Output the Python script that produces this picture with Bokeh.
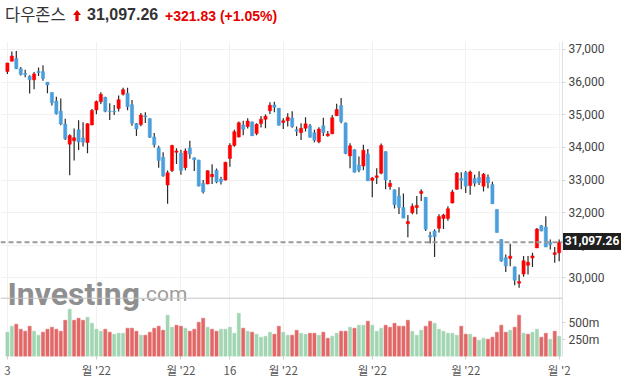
import pandas as pd
from bokeh.plotting import figure
from bokeh.layouts import column
from bokeh.models import (ColumnDataSource, Range1d, FixedTicker, NumeralTickFormatter,
                          Span, Label, Div)
from bokeh.embed import file_html
from bokeh.resources import INLINE

# ---------------- data (Dow Jones daily) ----------------
holidays = ["2022-01-17", "2022-02-21", "2022-04-15", "2022-05-30", "2022-06-20"]
dates = [d.strftime("%Y-%m-%d") for d in
         pd.bdate_range("2022-01-03", "2022-07-01", freq="C", holidays=holidays)]

opens = [36322, 36636, 36722, 36409, 36260, 36180, 36070, 36330, 36320, 36000,
         35680, 35420, 35110, 34720, 34100, 34200, 34540, 34290, 34150, 34690,
         35148, 35400, 35534, 35110, 35110, 35190, 35630, 35660, 35310, 34730,
         34700, 34970, 34880, 34320, 33990, 33700, 32850, 33290, 33850, 33830,
         33380, 33980, 33680, 33610, 32900, 32880, 33100, 33300, 33030, 33000,
         33660, 34060, 34320, 34690, 34640, 34780, 34425, 34730, 34860, 35120,
         35300, 35200, 34760, 34820, 34900, 34540, 34450, 34590, 34660, 34450,
         34170, 34660, 34360, 34420, 34970, 35280, 34750, 33740, 33930, 33460,
         33430, 33800, 32990, 33080, 33210, 33870, 32800, 32700, 32510, 32160,
         31660, 32000, 32160, 32590, 32470, 31300, 31440, 31520, 31820, 31820,
         32300, 32720, 33050, 33230, 32830, 33050, 33080, 32810, 33090, 32860,
         32100, 31180, 30620, 30600, 30340, 29840, 30120, 30390, 30610, 30920,
         31600, 31560, 31090, 30720, 30770]
highs = [36596, 36935, 36952, 36464, 36380, 36210, 36310, 36450, 36520, 36005,
         35690, 35550, 35500, 34880, 34400, 34580, 34830, 34770, 34740, 35178,
         35440, 35690, 35555, 35350, 35300, 35590, 35830, 35830, 35455, 34750,
         35055, 35075, 34890, 34440, 34050, 33850, 33290, 34080, 33975, 33925,
         33970, 34200, 33690, 33620, 33000, 33300, 33485, 33350, 33100, 33560,
         34127, 34540, 34790, 34820, 34890, 34790, 34740, 34960, 35010, 35380,
         35400, 35210, 34890, 35050, 35110, 34640, 34740, 34925, 34720, 34540,
         34620, 34910, 34500, 34990, 35340, 35510, 34760, 34130, 33940, 33720,
         34080, 33950, 33090, 33360, 34120, 33880, 33000, 32710, 32780, 32590,
         31930, 32280, 32510, 32720, 32480, 31420, 31490, 31950, 31970, 32200,
         32700, 33250, 33240, 33280, 33290, 33160, 33270, 33213, 33170, 32950,
         32100, 31180, 30720, 31045, 30350, 30110, 30670, 30670, 30770, 31530,
         31620, 31890, 31180, 30950, 31177]
lows = [36246, 36636, 36400, 36200, 36150, 35650, 35780, 36190, 36040, 35660,
        35280, 35010, 34680, 34230, 33150, 33600, 33920, 34030, 33820, 34680,
        35015, 35330, 35080, 34840, 34995, 35100, 35589, 35140, 34660, 34350,
        34650, 34750, 34290, 34000, 33380, 33100, 32272, 33250, 33490, 33160,
        33300, 33650, 33280, 32800, 32588, 32870, 32880, 32900, 32860, 32990,
        33410, 34020, 34300, 34370, 34580, 34350, 34370, 34610, 34590, 35020,
        35080, 34670, 34560, 34640, 34600, 34350, 34230, 34485, 34300, 34160,
        34130, 34350, 34330, 34400, 34960, 34740, 33790, 33360, 33230, 33240,
        33300, 32970, 32470, 32880, 33180, 32720, 32700, 32130, 31960, 31830,
        31250, 31950, 31950, 32360, 31440, 31060, 30640, 31390, 31500, 31750,
        32280, 32700, 32720, 32600, 32550, 32800, 32850, 32650, 32750, 32270,
        31390, 30500, 30180, 30360, 29780, 29700, 30040, 30110, 30340, 30920,
        31430, 30950, 30870, 30465, 30516]
closes = [36585, 36800, 36407, 36236, 36232, 36069, 36252, 36290, 36114, 35912,
          35368, 35029, 34715, 34265, 34364, 34298, 34168, 34161, 34725, 35132,
          35405, 35629, 35111, 35090, 35091, 35463, 35768, 35242, 34738, 34566,
          34989, 34934, 34312, 34079, 33597, 33132, 33224, 34059, 33893, 33295,
          33891, 33795, 33615, 32817, 32633, 33286, 33174, 32944, 32945, 33544,
          34063, 34481, 34755, 34553, 34807, 34358, 34708, 34861, 34956, 35294,
          35229, 34678, 34818, 34922, 34641, 34497, 34584, 34721, 34308, 34220,
          34565, 34451, 34412, 34911, 35161, 34793, 33811, 34049, 33240, 33302,
          33916, 32977, 33061, 33129, 34061, 32998, 32899, 32246, 32161, 31834,
          31730, 32197, 32223, 32655, 31490, 31253, 31262, 31880, 31929, 32120,
          32637, 33213, 32990, 32813, 33248, 32900, 32916, 33180, 32911, 32273,
          31393, 30517, 30365, 30669, 29927, 29889, 30530, 30483, 30677, 31501,
          31438, 30947, 31029, 30775, 31097.26]
volumes_m = [359, 447, 476, 403, 373, 447, 373, 315, 359, 403,
             432, 403, 373, 535, 697, 535, 565, 535, 579, 491,
             403, 373, 403, 359, 329, 343, 343, 418, 418, 373,
             315, 315, 359, 418, 447, 388, 609, 432, 462, 447,
             418, 373, 403, 506, 565, 432, 403, 373, 403, 403,
             432, 343, 638, 418, 373, 359, 329, 285, 300, 359,
             329, 447, 359, 315, 315, 388, 343, 329, 343, 343,
             315, 359, 270, 300, 343, 373, 373, 432, 418, 462,
             462, 521, 462, 373, 418, 462, 432, 491, 447, 447,
             535, 373, 315, 388, 447, 521, 491, 403, 373, 343,
             343, 315, 447, 329, 329, 285, 241, 270, 255, 285,
             359, 462, 359, 388, 432, 609, 343, 329, 359, 403,
             285, 343, 255, 373, 300]
prev_close = 36338.30          # close of the session before the first one
index_name = "다우존스"
last_price = 31097.26
change = 321.83
change_pct = 1.05

price_ticks = [30000, 31000, 32000, 33000, 34000, 35000, 36000, 37000]
vol_ticks = [250, 500]
vol_tick_labels = ["250m", "500m"]
tick_dates = ["2022-01-03", "2022-02-01", "2022-03-01", "2022-03-16",
              "2022-04-01", "2022-05-02", "2022-06-01", "2022-07-01"]
tick_labels = ["3", "월 '22", "월 '22", "16", "월 '22", "월 '22", "월 '22", "월 '2"]

# ---------------- styling constants ----------------
UP_CANDLE, DOWN_CANDLE = "#ff0000", "#4a9fdc"
UP_VOL, DOWN_VOL = "#a2d5b2", "#e26767"
PRICE_LO, PRICE_HI = 27595, 37244
VOL_HI = 4647
SEPARATOR_VOL = 860

n = len(dates)
idx = list(range(n))
body_top = [max(o, c) for o, c in zip(opens, closes)]
body_bot = [min(o, c) for o, c in zip(opens, closes)]
candle_col = [UP_CANDLE if c >= o else DOWN_CANDLE for o, c in zip(opens, closes)]
prevs = [prev_close] + closes[:-1]
vol_col = [UP_VOL if c >= pc else DOWN_VOL for c, pc in zip(closes, prevs)]

src = ColumnDataSource(dict(x=idx, o=opens, h=highs, l=lows, c=closes,
                            bt=body_top, bb=body_bot, cc=candle_col,
                            v=volumes_m, vc=vol_col))

p = figure(width=627, height=350, x_range=Range1d(-1.55, 124.75),
           y_range=Range1d(PRICE_LO, PRICE_HI), y_axis_location="right",
           output_backend="svg", toolbar_location=None,
           min_border_left=0, min_border_top=11, min_border_right=65,
           min_border_bottom=23)
p.extra_y_ranges = {"vol": Range1d(0, VOL_HI)}
p.outline_line_color = None
p.background_fill_color = "white"
p.border_fill_color = "white"

def vol_to_price(v):
    return PRICE_LO + v / VOL_HI * (PRICE_HI - PRICE_LO)

# right axis (price ticks + volume ticks share one axis)
yax = p.yaxis[0]
vol_tick_pos = [vol_to_price(v) for v in vol_ticks]
yax.ticker = FixedTicker(ticks=price_ticks + vol_tick_pos)
yax.formatter = NumeralTickFormatter(format="0,0")
yax.major_label_overrides = {pos: lab for pos, lab in zip(vol_tick_pos, vol_tick_labels)}
yax.axis_line_color = "#dde1e6"
yax.major_tick_line_color = "#d5d5d5"
yax.major_tick_out = 3
yax.major_tick_in = 0
yax.minor_tick_line_color = None
yax.major_label_text_font = "Roboto"
yax.major_label_text_font_size = "12px"
yax.major_label_text_color = "#444444"
yax.major_label_standoff = 3

tick_idx = [dates.index(d) for d in tick_dates]
xax = p.xaxis[0]
xax.ticker = FixedTicker(ticks=tick_idx)
xax.major_label_overrides = {i: lab for i, lab in zip(tick_idx, tick_labels)}
xax.axis_line_color = None
xax.major_tick_line_color = "#cccccc"
xax.major_tick_out = 3
xax.major_tick_in = 0
xax.minor_tick_line_color = None
xax.major_label_text_font = "Noto Sans CJK KR"
xax.major_label_text_font_size = "11.5px"
xax.major_label_text_color = "#555555"
xax.major_label_standoff = 2

p.ygrid.ticker = FixedTicker(ticks=price_ticks)
p.ygrid.grid_line_color = "#f1f1f1"
p.xgrid.ticker = FixedTicker(ticks=tick_idx)
p.xgrid.grid_line_color = "#f1f1f1"

# watermark
p.add_layout(Label(x=7, y=63, x_units="screen", y_units="screen", text="Investing",
                   text_font="Roboto", text_font_style="bold",
                   text_font_size="32px", text_color="#8f8f8f",
                   text_baseline="alphabetic", text_align="left"))
p.add_layout(Label(x=140, y=63, x_units="screen", y_units="screen", text=".com",
                   text_font="Roboto", text_font_size="21px",
                   text_color="#9c9c9c", text_baseline="alphabetic", text_align="left"))

# separator between price and volume panels
p.add_layout(Span(location=SEPARATOR_VOL, dimension="width", y_range_name="vol",
                  line_color="#c6c6c6", line_width=1))

# volume bars
p.vbar(x="x", width=0.7, top="v", bottom=0, fill_color="vc", line_color="vc",
       line_width=0.5, source=src, y_range_name="vol")

# candles
p.segment(x0="x", y0="l", x1="x", y1="h", line_color="#2a2a2a", line_width=1.2, source=src)
p.vbar(x="x", width=0.72, top="bt", bottom="bb", fill_color="cc", line_color="cc",
       line_width=0.5, source=src)

# last price line
p.add_layout(Span(location=last_price, dimension="width", line_color="#9a9a9a",
                  line_width=2, line_dash="5 3"))

# header + last-price box (HTML, the box overlays the axis area)
header_html = f"""
<div style="position:absolute;left:0;top:0;width:627px;height:30px;white-space:nowrap;">
  <span style="position:absolute;left:5px;top:3px;line-height:22px;font-family:'Noto Sans CJK KR';font-size:16.5px;color:#333333;">{index_name}</span>
  <svg style="position:absolute;left:73px;top:10px;" width="8" height="11" viewBox="0 0 8 11">
    <path d="M4 0 L8 5 L5.6 5 L5.6 11 L2.4 11 L2.4 5 L0 5 Z" fill="#e60000"/>
  </svg>
  <span style="position:absolute;left:87px;top:4px;line-height:22px;font-family:'Liberation Sans',Arial,sans-serif;font-weight:bold;font-size:16px;color:#333333;">{last_price:,.2f}</span>
  <span style="position:absolute;left:165px;top:5px;line-height:22px;font-family:'Liberation Sans',Arial,sans-serif;font-weight:bold;font-size:14px;color:#e60000;">+{change:,.2f} (+{change_pct:.2f}%)</span>
  <div style="position:absolute;left:563px;top:233px;width:58px;height:17px;background:#1f1f1f;color:#ffffff;font-family:Roboto,sans-serif;font-weight:bold;font-size:12px;line-height:17px;text-align:center;z-index:10;">{last_price:,.2f}</div>
</div>
"""
header = Div(text=header_html, width=627, height=30, margin=(0, 0, 0, 0),
             styles={"position": "relative", "overflow": "visible", "z-index": "5"})

layout = column(header, p, spacing=0)
open("out.html", "w").write(file_html(layout, INLINE))
